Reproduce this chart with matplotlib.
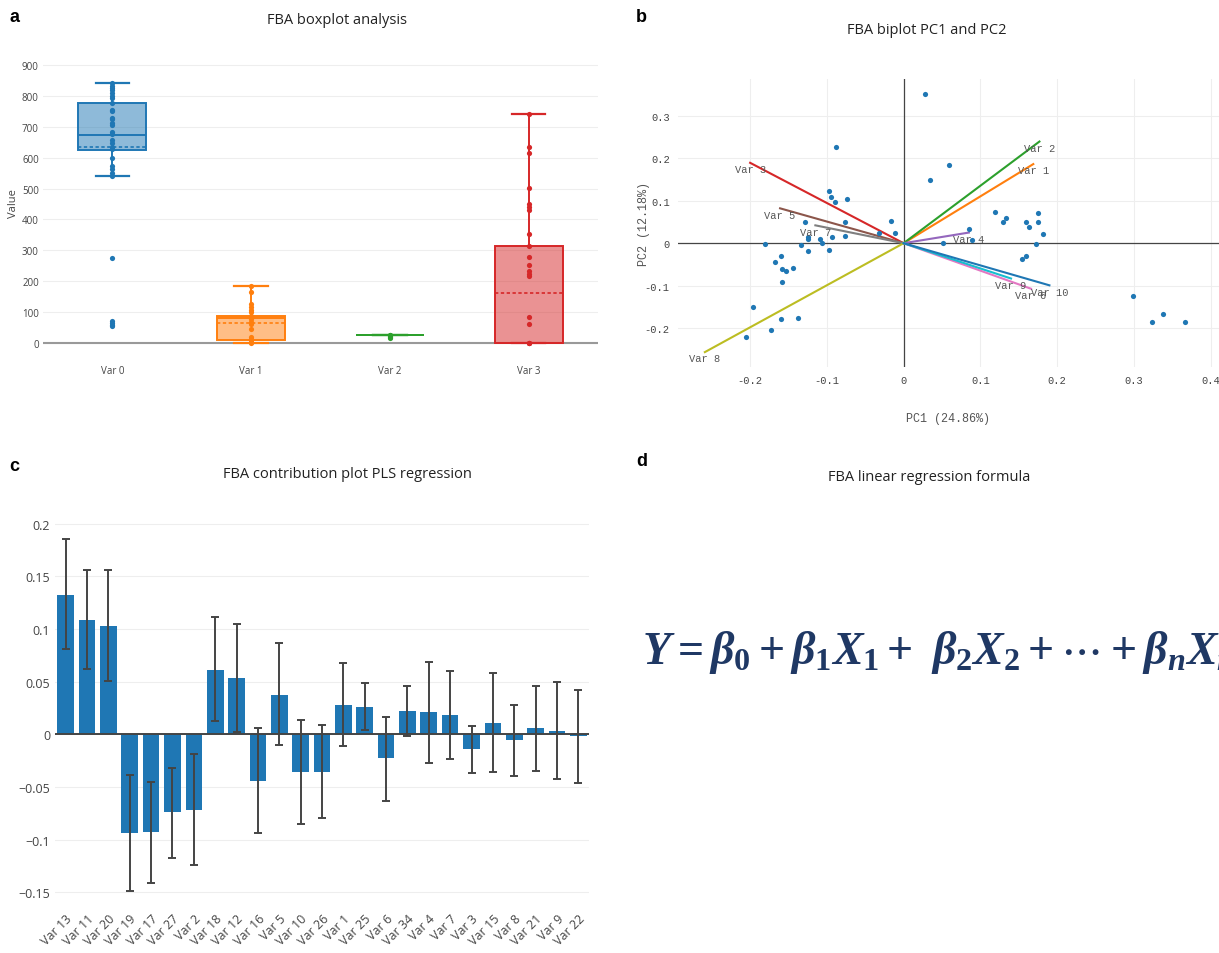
import numpy as np
import matplotlib
matplotlib.use("Agg")
import matplotlib.pyplot as plt

# ---- panel a: box plot ----
box_names = ["Var 0", "Var 1", "Var 2", "Var 3"]
box_q1 = [624, 10, 27, 0]
box_median = [673, 82, 27, 0]
box_q3 = [778, 88, 27, 315]
box_mean = [636, 66, 27, 162]
whisker_low = [541, 0, 27, 0]
whisker_high = [843, 184, 27, 743]
points_var0 = [843, 834, 826, 819, 810, 799, 794, 778, 756, 751, 730, 724, 713, 705, 683,
               676, 659, 649, 636, 627, 598, 573, 563, 552, 541, 275, 72, 65, 59, 56]
points_var1 = [184, 164, 126, 115, 108, 99, 88, 78, 69, 61, 45, 18, 13, 8, 2, 0]
points_var2 = [27, 25, 22, 18, 15]
points_var3 = [743, 636, 616, 502, 449, 439, 431, 352, 315, 279, 252, 234, 223, 216,
               85, 60, 0, 0, 0]
box_points = [points_var0, points_var1, points_var2, points_var3]

# ---- panel b: biplot ----
pc1_scores = [0.028, -0.088, 0.059, 0.034, -0.097, -0.094, -0.089, -0.074, 0.119, 0.129,
              0.133, 0.175, 0.159, 0.164, 0.175, 0.182, 0.173, 0.085, 0.089, 0.051,
              -0.017, -0.011, -0.032, -0.077, -0.076, -0.093, -0.129, -0.125, -0.125, -0.109,
              -0.106, -0.097, -0.134, -0.124, -0.180, -0.160, -0.168, -0.158, -0.153, -0.144,
              -0.158, 0.154, 0.159, -0.196, -0.160, -0.137, -0.173, -0.205, 0.299, 0.324,
              0.338, 0.367]
pc2_scores = [0.350, 0.226, 0.183, 0.148, 0.123, 0.108, 0.098, 0.105, 0.073, 0.051,
              0.060, 0.072, 0.049, 0.037, 0.049, 0.022, -0.001, 0.034, 0.007, 0.001,
              0.053, 0.024, 0.024, 0.049, 0.016, 0.015, 0.049, 0.014, 0.010, 0.010,
              0.000, -0.016, -0.004, -0.019, -0.002, -0.029, -0.045, -0.061, -0.065, -0.058,
              -0.092, -0.038, -0.030, -0.149, -0.179, -0.176, -0.204, -0.220, -0.124, -0.185,
              -0.166, -0.185]
loading_names = ["Var 1", "Var 2", "Var 3", "Var 4", "Var 5", "Var 6", "Var 7", "Var 8", "Var 9", "Var 10"]
loading_pc1 = [0.169, 0.177, -0.200, 0.085, -0.161, 0.166, -0.115, -0.259, 0.140, 0.190]
loading_pc2 = [0.186, 0.239, 0.189, 0.025, 0.082, -0.107, 0.042, -0.256, -0.083, -0.099]

# ---- panel c: PLS contributions ----
contrib_names = ["Var 13", "Var 11", "Var 20", "Var 19", "Var 17", "Var 27", "Var 2", "Var 18",
                 "Var 12", "Var 16", "Var 5", "Var 10", "Var 26", "Var 1", "Var 25", "Var 6",
                 "Var 34", "Var 4", "Var 7", "Var 3", "Var 15", "Var 8", "Var 21", "Var 9", "Var 22"]
contrib_values = [0.1325, 0.1083, 0.1030, -0.0936, -0.0926, -0.0741, -0.0716, 0.0612,
                  0.0531, -0.0440, 0.0377, -0.0355, -0.0355, 0.0276, 0.0264, -0.0229,
                  0.0223, 0.0210, 0.0182, -0.0141, 0.0110, -0.0053, 0.0060, 0.0035, -0.0016]
contrib_err_low = [0.0807, 0.0622, 0.0509, -0.1485, -0.1407, -0.1170, -0.1243, 0.0126,
                   0.0022, -0.0933, -0.0104, -0.0848, -0.0794, -0.0113, 0.0038, -0.0628,
                   -0.0016, -0.0270, -0.0232, -0.0364, -0.0358, -0.0396, -0.0345, -0.0421, -0.0458]
contrib_err_high = [0.1850, 0.1557, 0.1557, -0.0386, -0.0449, -0.0317, -0.0188, 0.1111,
                    0.1045, 0.0060, 0.0870, 0.0135, 0.0085, 0.0678, 0.0490, 0.0166,
                    0.0455, 0.0691, 0.0603, 0.0082, 0.0584, 0.0280, 0.0462, 0.0496, 0.0424]

formula = r"$Y = \beta_0 + \beta_1 X_1 +\ \beta_2 X_2 + \cdots + \beta_n X_n$"

plotly_colors = ["#1f77b4", "#ff7f0e", "#2ca02c", "#d62728", "#9467bd",
                 "#8c564b", "#e377c2", "#7f7f7f", "#bcbd22", "#17becf"]

plt.rcParams["font.family"] = ["Open Sans", "DejaVu Sans"]
plt.rcParams["mathtext.fontset"] = "custom"
plt.rcParams["mathtext.it"] = "Liberation Serif:italic:bold"
plt.rcParams["mathtext.rm"] = "Liberation Serif:bold"
plt.rcParams["mathtext.bf"] = "Liberation Serif:bold"

W, H = 1219, 954
fig = plt.figure(figsize=(W / 100, H / 100), dpi=100)


def px_axes(left, top, right, bottom):
    return fig.add_axes([left / W, 1 - bottom / H, (right - left) / W, (bottom - top) / H])


def panel_text(x, y, s, **kw):
    fig.text(x / W, 1 - y / H, s, **kw)


grey = "#444444"

# panel letters and titles
for (x, y, s) in [(9, 18, "a"), (636, 18, "b"), (9, 467, "c"), (636, 462, "d")]:
    panel_text(x, y, s, fontsize=13, fontweight="bold", family="Liberation Sans", va="center")
for (x, y, s) in [(337, 21, "FBA boxplot analysis"), (927, 31, "FBA biplot PC1 and PC2"),
                  (347, 475, "FBA contribution plot PLS regression"),
                  (929, 478, "FBA linear regression formula")]:
    panel_text(x, y, s, fontsize=10.5, ha="center", va="center", color="#222222")

# ---- a ----
ax = px_axes(43, 60, 598, 347)
stats = []
for i in range(len(box_names)):
    stats.append(dict(label=box_names[i], q1=box_q1[i], med=box_median[i], q3=box_q3[i],
                      mean=box_mean[i], whislo=whisker_low[i], whishi=whisker_high[i], fliers=[]))
bp = ax.bxp(stats, positions=range(len(box_names)), widths=0.49, patch_artist=True,
            showmeans=True, meanline=True, manage_ticks=False)
for i, c in enumerate(plotly_colors[:4]):
    bp["boxes"][i].set(facecolor=matplotlib.colors.to_rgba(c, 0.5), edgecolor=c, linewidth=1.4)
    bp["medians"][i].set(color=c, linewidth=1.4)
    bp["means"][i].set(color=c, linewidth=1.2, linestyle=(0, (2, 1.5)))
    for w in bp["whiskers"][2 * i:2 * i + 2]:
        w.set(color=c, linewidth=1.4)
    for cap in bp["caps"][2 * i:2 * i + 2]:
        cap.set(color=c, linewidth=1.6)
        mid = np.mean(cap.get_xdata())
        cap.set_xdata([mid - 0.12, mid + 0.12])
    ax.scatter(np.full(len(box_points[i]), i), box_points[i], s=14, color=c, zorder=4, linewidths=0)
ax.set_xlim(-0.5, 3.5)
ax.set_ylim(-10, 920)
ax.set_yticks(range(0, 1000, 100))
ax.set_xticks(range(4))
ax.set_xticklabels(box_names)
ax.axhline(0, color="#999999", lw=1.5, zorder=1)
ax.grid(axis="y", color="#eeeeee", lw=0.8)
ax.set_axisbelow(True)
for s in ax.spines.values():
    s.set_visible(False)
ax.tick_params(length=0, labelsize=7, labelcolor=grey)
ax.tick_params(axis="x", pad=14)
ax.tick_params(axis="y", pad=3)
ax.set_ylabel("Value", fontsize=8, color=grey)
ax.yaxis.set_label_coords(-0.043, 0.5)

# ---- b ----
bx = px_axes(678, 80, 1219, 368)
bx.set_xlim(-0.294, 0.411)
bx.set_ylim(-0.291, 0.386)
bx.set_xticks(np.arange(-0.2, 0.41, 0.1))
bx.set_yticks(np.arange(-0.2, 0.31, 0.1))
fmt = matplotlib.ticker.FuncFormatter(lambda v, p: "0" if abs(v) < 1e-9 else f"{v:.1f}")
bx.xaxis.set_major_formatter(fmt)
bx.yaxis.set_major_formatter(fmt)
bx.grid(color="#eeeeee", lw=0.8)
bx.set_axisbelow(True)
bx.axhline(0, color=grey, lw=0.9, zorder=1)
bx.axvline(0, color=grey, lw=0.9, zorder=1)
for s in bx.spines.values():
    s.set_visible(False)
bx.tick_params(length=0, labelsize=7.5, labelcolor=grey, pad=6)
for lab in bx.get_xticklabels() + bx.get_yticklabels():
    lab.set_family("Liberation Mono")
bx.scatter(pc1_scores, pc2_scores, s=14, color=plotly_colors[0], zorder=4, linewidths=0)
for i, name in enumerate(loading_names):
    c = plotly_colors[(i + 1) % 10]
    bx.plot([0, loading_pc1[i]], [0, loading_pc2[i]], color=c, lw=1.5, zorder=3)
    bx.annotate(name, (loading_pc1[i], loading_pc2[i]), xytext=(0, -4.5), textcoords="offset points",
                ha="center", va="center", fontsize=7.5, family="Liberation Mono", color="#555555", zorder=5)
bx.set_xlabel("PC1 (24.86%)", family="Liberation Mono", fontsize=8.5, color="#555555", labelpad=19)
bx.set_ylabel("PC2 (12.18%)", family="Liberation Mono", fontsize=8.5, color="#555555", labelpad=-4)

# ---- c ----
cx = px_axes(55, 514, 589, 904)
xpos = np.arange(len(contrib_names))
vals = np.array(contrib_values)
yerr = np.vstack([vals - np.array(contrib_err_low), np.array(contrib_err_high) - vals])
cx.bar(xpos, vals, width=0.78, color=plotly_colors[0], zorder=2)
cx.errorbar(xpos, vals, yerr=yerr, fmt="none", ecolor=grey, elinewidth=1.4, capsize=3, capthick=1.4, zorder=3)
cx.axhline(0, color=grey, lw=1.4, zorder=2.5)
cx.set_xlim(-0.5, len(contrib_names) - 0.5)
cx.set_ylim(-0.16, 0.21)
cx.set_yticks([-0.15, -0.1, -0.05, 0, 0.05, 0.1, 0.15, 0.2])
cx.yaxis.set_major_formatter(matplotlib.ticker.FuncFormatter(
    lambda v, p: "0" if abs(v) < 1e-9 else f"{v:g}".replace("-", "\u2212")))
cx.set_xticks(xpos)
cx.set_xticklabels(contrib_names, rotation=45, ha="right", rotation_mode="anchor")
cx.grid(axis="y", color="#eeeeee", lw=0.8)
cx.set_axisbelow(True)
for s in cx.spines.values():
    s.set_visible(False)
cx.tick_params(length=0, labelsize=9, labelcolor=grey)
cx.tick_params(axis="x", pad=6)

# ---- d ----
panel_text(642, 664, formula, fontsize=33, color="#1f3864", va="baseline", ha="left")

fig.savefig("out.png", dpi=100)
